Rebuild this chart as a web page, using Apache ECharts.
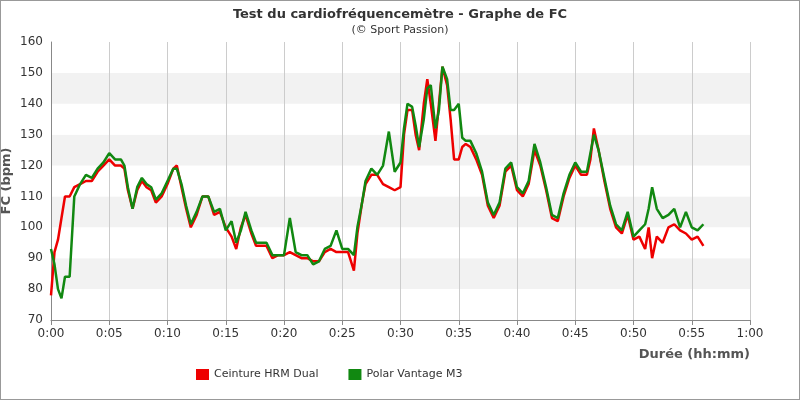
<!DOCTYPE html><html><head><meta charset="utf-8">
<script src="https://cdn.jsdelivr.net/npm/echarts@6/dist/echarts.min.js"></script>
<style>html,body{margin:0;padding:0;background:#fff}#c{width:798px;height:398px;border:1px solid #999}</style></head><body><div id="c"></div>
<script>
const times=[0,0.3,0.6,0.9,1.2,1.6,2,2.5,3,3.5,4,4.5,5,5.5,6,6.3,6.6,7,7.4,7.8,8.2,8.6,9,9.5,10,10.5,10.8,11.2,11.6,12,12.5,13,13.5,14,14.5,15,15.5,15.9,16.3,16.7,17.2,17.6,18,18.5,19,19.5,20,20.5,21,21.5,22,22.5,23,23.5,24,24.5,25,25.5,26,26.3,26.7,27,27.5,28,28.5,29,29.5,30,30.3,30.6,31,31.3,31.6,32,32.3,32.6,33,33.3,33.6,34,34.3,34.6,35,35.3,35.6,36,36.5,37,37.5,38,38.5,39,39.5,40,40.5,41,41.5,42,42.5,43,43.5,44,44.5,45,45.5,46,46.3,46.6,47,47.5,48,48.5,49,49.5,50,50.5,51,51.3,51.6,52,52.5,53,53.5,54,54.5,55,55.5,56];
const hrm=[78,92,96,103,110,110,113,114,115,115,118,120,122,120,120,119,112,106,112,115,113,112,108,110,114,119,120,113,106,100,104,110,110,104,105,100,97,93,100,104,98,94,94,94,90,91,91,92,91,90,90,89,89,92,93,92,92,92,86,98,108,114,117,117,114,113,112,113,130,138,138,130,125,140,148,140,128,140,152,146,135,122,122,126,127,126,122,117,107,103,107,118,120,112,110,114,125,120,112,103,102,110,116,120,117,117,122,132,125,115,106,100,98,104,96,97,93,100,90,97,95,100,101,99,98,96,97,94];
const polar=[93,88,80,77,84,84,110,114,117,116,119,121,124,122,122,120,113,106,113,116,114,113,109,111,115,119,119,114,107,101,105,110,110,105,106,99,102,95,99,105,99,95,95,95,91,91,91,103,92,91,91,88,89,93,94,99,93,93,91,100,108,115,119,117,120,131,118,121,132,140,139,133,126,135,145,146,132,138,152,148,138,138,140,129,128,128,124,118,108,104,108,119,121,113,111,115,127,121,113,104,103,111,117,121,118,118,124,130,125,116,107,101,99,105,97,99,101,106,113,106,103,104,106,100,105,100,99,101];
const names=['Ceinture HRM Dual','Polar Vantage M3'];
const ch=echarts.init(document.getElementById('c'));
const fmt=v=>Math.floor(v/60)+':'+String(Math.round(v%60)).padStart(2,'0');
ch.setOption({
animation:false,
title:{text:'Test du cardiofréquencemètre - Graphe de FC',subtext:'(© Sport Passion)',left:'center',top:2,itemGap:4,
 textStyle:{fontFamily:'DejaVu Sans',fontSize:13,fontWeight:'bold',color:'#333'},subtextStyle:{fontFamily:'DejaVu Sans',fontSize:11,color:'#333'}},
legend:{left:190,bottom:14,icon:'rect',itemWidth:13,itemHeight:11,itemGap:30,textStyle:{fontFamily:'DejaVu Sans',fontSize:11,color:'#333'}},
grid:{left:50,right:49,top:41,bottom:79,containLabel:false,outerBoundsMode:'none'},
xAxis:{type:'value',min:0,max:60,interval:5,name:'Durée (hh:mm)',nameLocation:'end',nameGap:0,nameMoveOverlap:false,
 nameTextStyle:{fontFamily:'DejaVu Sans',fontWeight:'bold',fontSize:13,color:'#555',align:'right',verticalAlign:'top',padding:[28,0,0,0]},
 axisLabel:{formatter:fmt,fontFamily:'DejaVu Sans',fontSize:12,color:'#333'},
 axisLine:{lineStyle:{color:'#888'}},axisTick:{show:true,lineStyle:{color:'#888'}},
 splitLine:{show:true,lineStyle:{color:'#ccc'}}},
yAxis:{type:'value',min:70,max:160,interval:10,name:'FC (bpm)',nameLocation:'middle',nameGap:38,nameMoveOverlap:false,
 nameTextStyle:{fontFamily:'DejaVu Sans',fontWeight:'bold',fontSize:13,color:'#555'},
 axisLabel:{fontFamily:'DejaVu Sans',fontSize:12,color:'#333'},
 axisLine:{show:true,lineStyle:{color:'#888'}},axisTick:{show:false},
 splitLine:{show:false},splitArea:{show:true,areaStyle:{color:['#fff','#f2f2f2']}}},
series:[
 {name:names[0],type:'line',data:times.map((t,i)=>[t,hrm[i]]),symbol:'none',itemStyle:{color:'#ee0000'},lineStyle:{width:2.5,color:'#ee0000'}},
 {name:names[1],type:'line',data:times.map((t,i)=>[t,polar[i]]),symbol:'none',itemStyle:{color:'#118811'},lineStyle:{width:2.5,color:'#118811'}}
]});
</script></body></html>
